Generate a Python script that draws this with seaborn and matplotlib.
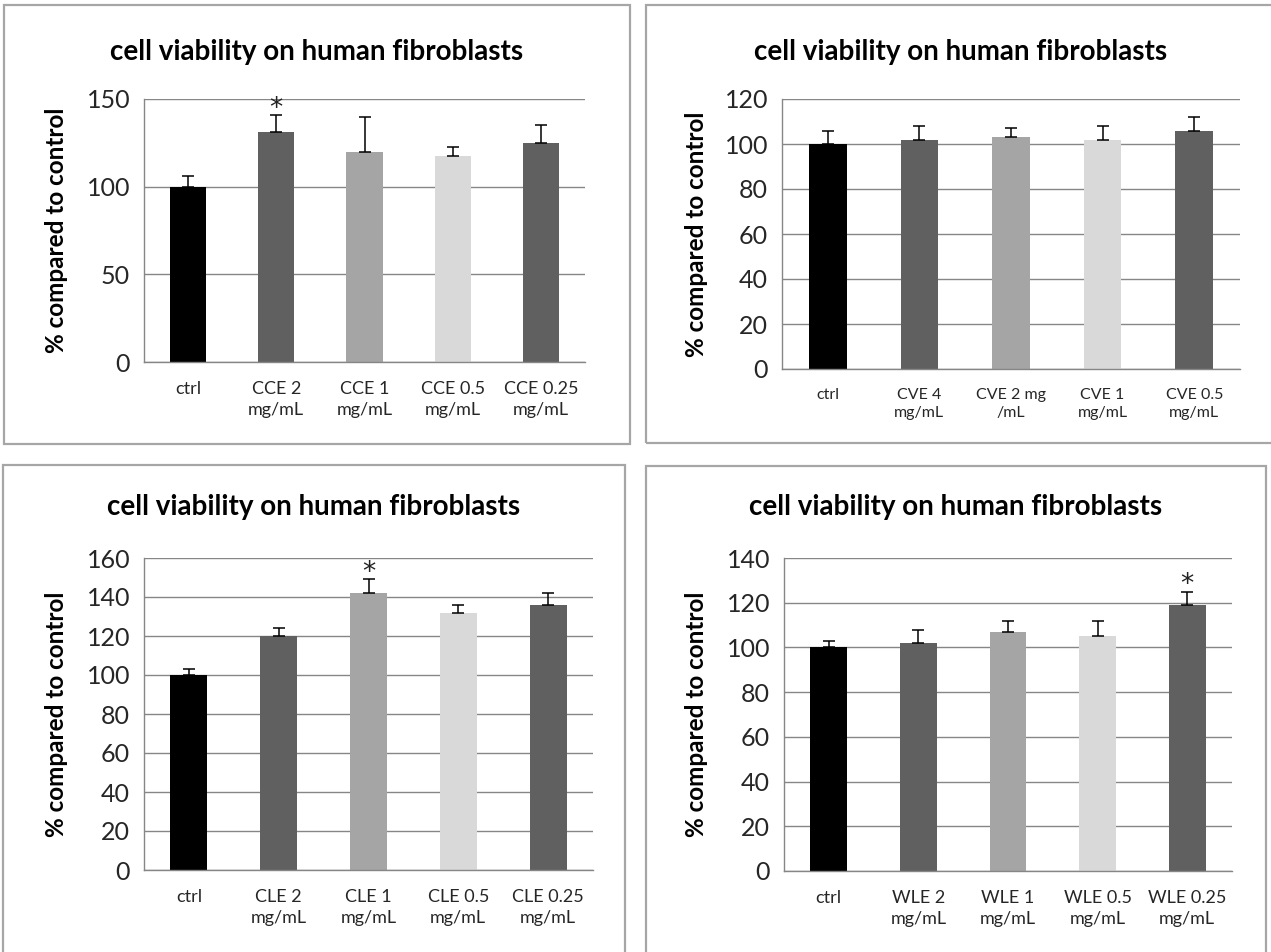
import matplotlib
matplotlib.use("Agg")
import matplotlib.pyplot as plt
import seaborn as sns
import pandas as pd
from matplotlib.patches import Rectangle

sns.set_theme(style="white")
plt.rcParams['font.family'] = ['Lato', 'DejaVu Sans']

TITLE = "cell viability on human fibroblasts"
YLABEL = "% compared to control"

# ---- data ----
cats_cce = ["ctrl", "CCE 2\nmg/mL", "CCE 1\nmg/mL", "CCE 0.5\nmg/mL", "CCE 0.25\nmg/mL"]
vals_cce = [100, 131, 120, 117.5, 125]
err_cce = [6, 10, 20, 5, 10]
star_cce = [False, True, False, False, False]
yticks_cce = [0, 50, 100, 150]

cats_cve = ["ctrl", "CVE 4\nmg/mL", "CVE 2 mg\n/mL", "CVE 1\nmg/mL", "CVE 0.5\nmg/mL"]
vals_cve = [100, 102, 103, 102, 106]
err_cve = [6, 6, 4, 6, 6]
star_cve = [False, False, False, False, False]
yticks_cve = [0, 20, 40, 60, 80, 100, 120]

cats_cle = ["ctrl", "CLE 2\nmg/mL", "CLE 1\nmg/mL", "CLE 0.5\nmg/mL", "CLE 0.25\nmg/mL"]
vals_cle = [100, 120, 142, 132, 136]
err_cle = [3, 4, 7, 4, 6]
star_cle = [False, False, True, False, False]
yticks_cle = [0, 20, 40, 60, 80, 100, 120, 140, 160]

cats_wle = ["ctrl", "WLE 2\nmg/mL", "WLE 1\nmg/mL", "WLE 0.5\nmg/mL", "WLE 0.25\nmg/mL"]
vals_wle = [100, 102, 107, 105, 119]
err_wle = [3, 6, 5, 7, 6]
star_wle = [False, False, False, False, True]
yticks_wle = [0, 20, 40, 60, 80, 100, 120, 140]

bar_colors = ["#000000", "#606060", "#a5a5a5", "#d9d9d9", "#606060"]

W, H = 1271, 952
fig = plt.figure(figsize=(W / 100, H / 100), dpi=100)

def px_axes(left, top, right, bottom):
    return fig.add_axes([left / W, 1 - bottom / H, (right - left) / W, (bottom - top) / H])

GRID = "#868686"

panels = [
    dict(cats=cats_cce, vals=vals_cce, err=err_cce, star=star_cce, yt=yticks_cce,
         ax=(144, 99, 585, 362), box=(4, 5, 630, 444), title_y=52, xfs=13, ylab_x=56),
    dict(cats=cats_cve, vals=vals_cve, err=err_cve, star=star_cve, yt=yticks_cve,
         ax=(782, 99, 1240, 369), box=(646, 5, 1275, 443), title_y=52, xfs=11.5, ylab_x=697),
    dict(cats=cats_cle, vals=vals_cle, err=err_cle, star=star_cle, yt=yticks_cle,
         ax=(144, 558, 593, 870), box=(3, 465, 625, 955), title_y=507, xfs=13, ylab_x=56),
    dict(cats=cats_wle, vals=vals_wle, err=err_wle, star=star_wle, yt=yticks_wle,
         ax=(784, 558, 1232, 871), box=(646, 466, 1266, 955), title_y=507, xfs=13, ylab_x=697),
]

for p in panels:
    # panel frame
    bl, bt, br, bb = p["box"]
    fig.patches.append(Rectangle((bl / W, 1 - bb / H), (br - bl) / W, (bb - bt) / H,
                                 transform=fig.transFigure, fill=False,
                                 edgecolor="#a6a6a6", linewidth=1.6))
    ax = px_axes(*p["ax"])
    df = pd.DataFrame({"cat": p["cats"], "val": p["vals"]})
    sns.barplot(data=df, x="cat", y="val", hue="cat", order=p["cats"],
                hue_order=p["cats"], palette=bar_colors, width=0.41,
                legend=False, ax=ax, saturation=1, errorbar=None, linewidth=0)
    xs = list(range(len(p["cats"])))
    ax.errorbar(xs, p["vals"], yerr=[[0] * len(xs), p["err"]], fmt="none",
                ecolor="black", elinewidth=1.1, capsize=4.5, capthick=1.1, zorder=4)
    for x, v, e, s in zip(xs, p["vals"], p["err"], p["star"]):
        if s:
            ax.annotate("*", xy=(x, v + e), xytext=(0, -5), textcoords="offset points",
                        ha="center", va="bottom", fontsize=19, color="#222222",
                        family="DejaVu Sans", annotation_clip=False)
    ymax = p["yt"][-1]
    ax.set_ylim(0, ymax)
    ax.set_xlim(-0.5, len(xs) - 0.5)
    ax.set_yticks(p["yt"])
    ax.set_yticklabels([str(t) for t in p["yt"]], fontsize=18)
    ax.set_xticks(xs)
    ax.set_xticklabels(p["cats"], fontsize=p["xfs"], linespacing=1.35)
    ax.set_xticks([i - 0.5 for i in range(len(xs) + 1)], minor=True)
    ax.tick_params(axis="x", which="major", length=0, pad=14)
    ax.tick_params(axis="x", which="minor", length=7, direction="out", color=GRID, width=1)
    ax.tick_params(axis="y", which="major", length=6, direction="out", color=GRID, width=1, pad=4)
    ax.set_xlabel("")
    ax.set_ylabel("")
    ax.yaxis.grid(True, color=GRID, linewidth=1)
    ax.set_axisbelow(True)
    for sp in ["top", "right"]:
        ax.spines[sp].set_visible(False)
    for sp in ["left", "bottom"]:
        ax.spines[sp].set_color(GRID)
        ax.spines[sp].set_linewidth(1)
    # title centered on panel box
    fig.text(((bl + br) / 2) / W, 1 - p["title_y"] / H, TITLE, ha="center", va="center",
             fontsize=20, fontweight="bold", color="black")
    ax_l, ax_t, ax_r, ax_b = p["ax"]
    fig.text(p["ylab_x"] / W, 1 - ((ax_t + ax_b) / 2) / H, YLABEL, rotation=90,
             ha="center", va="center", fontsize=17.5, fontweight="bold", color="black")

fig.savefig("out.png", dpi=100, facecolor="white")
